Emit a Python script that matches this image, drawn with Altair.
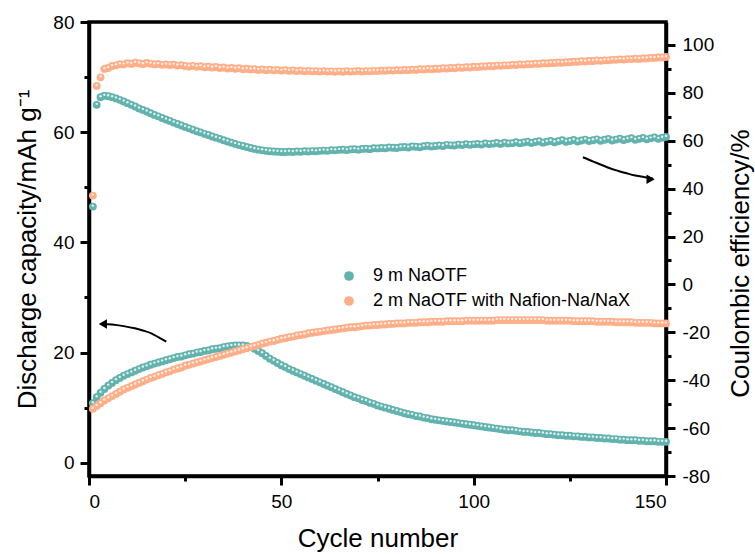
import altair as alt
import pandas as pd

S1 = "9 m NaOTF"
S2 = "2 m NaOTF with Nafion-Na/NaX"
TEAL = "#62b3ae"
ORANGE = "#ffae88"
FONT = "Liberation Sans"

cycles = list(range(1, 151))

teal_cap = [
    10.8, 11.9, 12.7, 13.4, 14.0, 14.5, 15.0, 15.4, 15.8, 16.1,
    16.4, 16.7, 17.0, 17.3, 17.5, 17.8, 18.0, 18.2, 18.4, 18.6,
    18.8, 19.0, 19.2, 19.3, 19.5, 19.7, 19.8, 20.0, 20.1, 20.3,
    20.4, 20.6, 20.7, 20.8, 21.0, 21.1, 21.2, 21.3, 21.3, 21.3,
    21.2, 21.0, 20.7, 20.3, 19.9, 19.4, 18.9, 18.5, 18.1, 17.7,
    17.4, 17.0, 16.7, 16.4, 16.1, 15.8, 15.5, 15.2, 14.9, 14.6,
    14.3, 14.0, 13.7, 13.4, 13.1, 12.8, 12.5, 12.2, 11.9, 11.7,
    11.4, 11.2, 10.9, 10.7, 10.4, 10.2, 10.0, 9.8, 9.6, 9.4,
    9.2, 9.0, 8.8, 8.7, 8.5, 8.4, 8.2, 8.1, 7.9, 7.8,
    7.7, 7.6, 7.5, 7.4, 7.3, 7.2, 7.1, 7.0, 6.9, 6.8,
    6.7, 6.6, 6.5, 6.4, 6.3, 6.2, 6.1, 6.0, 5.9, 5.9,
    5.8, 5.7, 5.6, 5.6, 5.5, 5.4, 5.4, 5.3, 5.2, 5.2,
    5.1, 5.0, 5.0, 4.9, 4.9, 4.8, 4.8, 4.7, 4.7, 4.6,
    4.6, 4.5, 4.5, 4.4, 4.4, 4.3, 4.3, 4.2, 4.2, 4.1,
    4.1, 4.1, 4.0, 4.0, 3.9, 3.9, 3.9, 3.8, 3.8, 3.8,
]

orange_cap = [
    9.8, 10.3, 10.8, 11.3, 11.7, 12.1, 12.5, 12.9, 13.3, 13.6,
    13.9, 14.2, 14.5, 14.8, 15.1, 15.4, 15.6, 15.9, 16.1, 16.4,
    16.6, 16.9, 17.1, 17.3, 17.6, 17.8, 18.0, 18.2, 18.4, 18.6,
    18.8, 19.0, 19.2, 19.4, 19.6, 19.8, 20.0, 20.2, 20.4, 20.6,
    20.8, 21.0, 21.2, 21.4, 21.6, 21.8, 22.0, 22.1, 22.3, 22.5,
    22.6, 22.8, 22.9, 23.1, 23.2, 23.3, 23.5, 23.6, 23.7, 23.8,
    23.9, 24.0, 24.1, 24.2, 24.3, 24.4, 24.5, 24.6, 24.6, 24.7,
    24.8, 24.9, 24.9, 25.0, 25.0, 25.1, 25.1, 25.2, 25.2, 25.3,
    25.3, 25.3, 25.4, 25.4, 25.4, 25.5, 25.5, 25.5, 25.6, 25.6,
    25.6, 25.6, 25.7, 25.7, 25.7, 25.7, 25.7, 25.8, 25.8, 25.8,
    25.8, 25.8, 25.8, 25.8, 25.8, 25.9, 25.9, 25.9, 25.9, 25.9,
    25.9, 25.9, 25.9, 25.9, 25.9, 25.9, 25.9, 25.9, 25.8, 25.8,
    25.8, 25.8, 25.8, 25.8, 25.8, 25.7, 25.7, 25.7, 25.7, 25.7,
    25.7, 25.6, 25.6, 25.6, 25.6, 25.6, 25.5, 25.5, 25.5, 25.5,
    25.5, 25.4, 25.4, 25.4, 25.4, 25.4, 25.3, 25.3, 25.3, 25.3,
]

teal_ce = [
    32.5, 75.0, 78.2, 78.8, 78.6, 78.2, 77.7, 77.1, 76.4, 75.7,
    75.0, 74.3, 73.5, 72.9, 72.2, 71.5, 70.8, 70.2, 69.5, 68.9,
    68.3, 67.6, 67.0, 66.4, 65.8, 65.2, 64.6, 64.0, 63.5, 62.9,
    62.4, 61.8, 61.3, 60.8, 60.2, 59.7, 59.2, 58.7, 58.2, 57.8,
    57.4, 57.0, 56.6, 56.3, 56.0, 55.8, 55.6, 55.5, 55.4, 55.3,
    55.3, 55.4, 55.3, 55.5, 55.4, 55.6, 55.5, 55.7, 55.6, 55.8,
    55.9, 55.8, 56.1, 56.0, 56.2, 56.3, 56.1, 56.4, 56.5, 56.3,
    56.6, 56.7, 56.5, 56.9, 56.8, 57.0, 56.9, 57.2, 57.1, 57.0,
    57.3, 57.4, 57.2, 57.6, 57.5, 57.3, 57.7, 57.9, 57.6, 57.8,
    58.0, 57.8, 58.3, 58.1, 58.0, 58.4, 58.2, 58.6, 58.3, 58.5,
    58.7, 58.4, 58.9, 58.6, 58.8, 59.1, 58.7, 59.2, 58.9, 59.0,
    59.4, 59.0, 59.3, 59.6, 59.1, 59.5, 59.8, 59.2, 59.6, 59.9,
    59.4, 59.8, 60.2, 59.6, 59.9, 60.3, 59.7, 60.1, 60.5, 59.9,
    60.2, 60.6, 60.0, 60.4, 60.8, 60.1, 60.5, 60.9, 60.3, 60.7,
    61.1, 60.4, 60.8, 61.2, 60.6, 61.0, 61.4, 60.8, 61.3, 61.6,
]

orange_ce = [
    37.1, 82.9, 86.5, 90.0, 90.4, 91.2, 91.5, 92.0, 91.8, 92.4,
    92.1, 92.6, 92.3, 92.0, 92.5, 92.2, 91.9, 92.1, 91.7, 91.9,
    91.6, 91.8, 91.4, 91.6, 91.2, 91.0, 91.3, 90.9, 91.1, 90.7,
    90.9, 90.6, 90.8, 90.4, 90.6, 90.2, 90.4, 90.1, 90.3, 89.9,
    90.1, 89.8, 89.9, 89.6, 89.8, 89.5, 89.7, 89.4, 89.6, 89.3,
    89.5, 89.2, 89.4, 89.1, 89.3, 89.0, 89.2, 89.0, 89.1, 88.9,
    89.1, 88.9, 89.0, 88.8, 89.0, 88.8, 89.1, 88.9, 89.0, 89.2,
    88.9, 89.1, 89.0, 89.2, 89.1, 89.3, 89.2, 89.4, 89.3, 89.5,
    89.4, 89.6, 89.5, 89.7, 89.6, 89.9, 89.8, 90.0, 89.9, 90.1,
    90.0, 90.3, 90.2, 90.4, 90.3, 90.6, 90.5, 90.7, 90.6, 90.9,
    90.8, 91.0, 91.0, 91.2, 91.1, 91.4, 91.3, 91.5, 91.5, 91.7,
    91.6, 91.9, 91.8, 92.0, 92.0, 92.2, 92.1, 92.4, 92.3, 92.5,
    92.5, 92.7, 92.6, 92.8, 92.8, 93.0, 93.0, 93.2, 93.1, 93.3,
    93.3, 93.5, 93.4, 93.6, 93.6, 93.8, 93.8, 94.0, 93.9, 94.1,
    94.1, 94.3, 94.2, 94.4, 94.4, 94.6, 94.6, 94.8, 94.8, 95.0,
]

# annotation arrows (data coordinates)
arrow_left_x = [20.1, 18.0, 16.2, 14.0, 11.9, 9.0, 6.0, 3.5]
arrow_left_y = [22.0, 22.8, 23.5, 24.0, 24.4, 24.8, 25.1, 25.2]
arrow_left_head = (3.6, 25.2)
arrow_right_x = [128.4, 131.1, 133.3, 135.4, 137.6, 139.8, 142.0, 144.5, 146.5]
arrow_right_y = [53.1, 51.3, 49.9, 48.5, 47.4, 46.4, 45.5, 44.8, 44.3]
arrow_right_head = (146.0, 43.9)

LEFT_DOMAIN = [-2.4, 80]
RIGHT_DOMAIN = [-80, 109.6]


def df_series(vals, name):
    return pd.DataFrame({"cycle": cycles, "value": vals, "series": name})


x_enc = alt.X(
    "cycle:Q",
    scale=alt.Scale(domain=[0, 150], nice=False, zero=False),
    axis=alt.Axis(
        values=list(range(0, 151, 25)),
        labelExpr="datum.value % 50 == 0 ? '' + datum.value : ''",
        tickSize={"condition": {"test": "datum.value % 50 != 0", "value": 5}, "value": 9},
        title="Cycle number",
        titleFontSize=26,
        titleFontWeight="normal",
        titleBaseline="alphabetic",
        titleY=70,
        labelFontSize=19,
        labelPadding=7,
        domainWidth=3.5,
        tickWidth=3,
        grid=False,
    ),
)

yl_enc = alt.Y(
    "value:Q",
    scale=alt.Scale(domain=LEFT_DOMAIN, nice=False, zero=False),
    axis=alt.Axis(
        orient="left",
        values=list(range(0, 81, 10)),
        labelExpr="datum.value % 20 == 0 ? '' + datum.value : ''",
        tickSize={"condition": {"test": "datum.value % 20 != 0", "value": 5}, "value": 9},
        title="Discharge capacity/mAh g\u207b\u00b9",
        titleFontSize=26,
        titleFontWeight="normal",
        titleAngle=270,
        titleAlign="center",
        titleBaseline="alphabetic",
        titleX=-54,
        titleY=227,
        labelFontSize=19,
        labelPadding=6,
        domainWidth=3.5,
        tickWidth=3,
        grid=False,
    ),
)

yr_enc = alt.Y(
    "value:Q",
    scale=alt.Scale(domain=RIGHT_DOMAIN, nice=False, zero=False),
    axis=alt.Axis(
        orient="right",
        values=list(range(-80, 101, 10)),
        labelExpr="datum.value % 20 == 0 ? '' + datum.value : ''",
        tickSize={"condition": {"test": "datum.value % 20 != 0", "value": 5}, "value": 9},
        title="Coulombic efficiency/%",
        titleFontSize=26,
        titleFontWeight="normal",
        titleAngle=270,
        titleAlign="center",
        titleBaseline="alphabetic",
        titleX=82,
        titleY=241,
        labelFontSize=19,
        labelPadding=7,
        domainWidth=3.5,
        tickWidth=3,
        grid=False,
    ),
)

color_enc = alt.Color(
    "series:N",
    scale=alt.Scale(domain=[S1, S2], range=[TEAL, ORANGE]),
    legend=alt.Legend(
        title=None,
        orient="none",
        legendX=251,
        legendY=245,
        labelFont=FONT,
        labelFontSize=18,
        labelColor="black",
        labelLimit=400,
        labelOffset=15,
        symbolType="circle",
        symbolSize=95,
        symbolStrokeWidth=0,
        rowPadding=7,
        padding=0,
    ),
)


def dots(vals, name, y_enc):
    d = df_series(vals, name)
    base = alt.Chart(d).encode(x=x_enc, y=y_enc)
    circ = base.mark_circle(size=62, opacity=1).encode(color=color_enc)
    hl = base.mark_circle(size=6, color="white", opacity=0.8, yOffset=-1)
    return [circ, hl]


def arrow(xs, ys, head, shape, y_enc):
    line_df = pd.DataFrame({"cycle": xs, "value": ys})
    head_df = pd.DataFrame({"cycle": [head[0]], "value": [head[1]]})
    line = alt.Chart(line_df).mark_line(
        color="black", strokeWidth=2, interpolate="monotone"
    ).encode(x=x_enc, y=y_enc)
    tri = alt.Chart(head_df).mark_point(
        shape=shape, filled=True, color="black", size=90, opacity=1
    ).encode(x=x_enc, y=y_enc)
    return [line, tri]


left = alt.layer(
    *dots(teal_cap, S1, yl_enc),
    *dots(orange_cap, S2, yl_enc),
    *arrow(arrow_left_x, arrow_left_y, arrow_left_head, "triangle-left", yl_enc),
)
right = alt.layer(
    *dots(teal_ce, S1, yr_enc),
    *dots(orange_ce, S2, yr_enc),
    *arrow(arrow_right_x, arrow_right_y, arrow_right_head, "triangle-right", yr_enc),
)

chart = (
    alt.layer(left, right)
    .resolve_scale(y="independent")
    .properties(
        width=577,
        height=454,
        autosize=alt.AutoSizeParams(type="none"),
        padding={"left": 89, "top": 22, "right": 89, "bottom": 78},
        background="white",
    )
    .configure_axis(
        labelFont=FONT,
        titleFont=FONT,
        labelColor="black",
        titleColor="black",
        domainColor="black",
        tickColor="black",
    )
    .configure_view(stroke="black", strokeWidth=3.5)
)

chart.save("out.html", embed_options={"renderer": "svg", "actions": False})
